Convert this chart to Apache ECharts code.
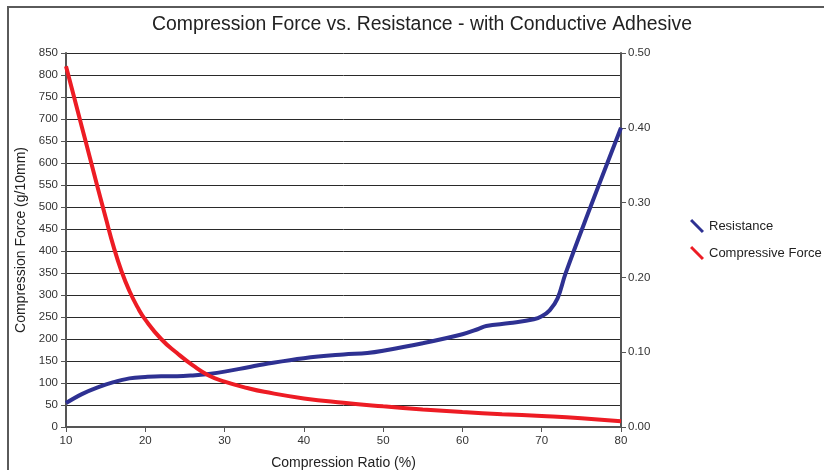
<!DOCTYPE html>
<html>
<head>
<meta charset="utf-8">
<script src="https://cdn.jsdelivr.net/npm/echarts@6/dist/echarts.min.js"></script>
<style>
html,body{margin:0;padding:0;background:#fff;}
#frame{position:absolute;left:7px;top:6px;width:830px;height:480px;border-left:2px solid #5a5a5a;border-top:2px solid #5a5a5a;}
#chart{position:absolute;left:0;top:0;width:824px;height:470px;}
</style>
</head>
<body>
<div id="frame"></div>
<div id="chart"></div>
<script>
// Compression ratio (%) and compressive force (g/10mm)
const forceX = [10, 11, 12, 13, 14, 15, 16, 17, 18, 19, 20, 22, 24, 26, 28, 30, 33, 35, 40, 45, 50, 55, 60, 65, 70, 75, 80];
const forceY = [820, 751, 682, 613, 544, 476, 410, 354, 309, 273, 244, 200, 168, 140, 117, 103, 88, 80, 65, 55, 47, 40, 34, 29, 25, 20, 13];
// Compression ratio (%) and resistance
const resX = [10, 12, 14, 16, 18, 20, 22, 24, 26, 28, 30, 33, 35, 40, 45, 48, 50, 55, 60, 62, 63, 66, 69, 70, 71, 72, 73, 76, 80];
const resY = [0.032, 0.044, 0.053, 0.060, 0.065, 0.067, 0.068, 0.068, 0.069, 0.071, 0.074, 0.080, 0.084, 0.092, 0.097, 0.099, 0.102, 0.112, 0.124, 0.131, 0.135, 0.139, 0.144, 0.148, 0.156, 0.172, 0.205, 0.290, 0.400];
const seriesNames = ['Resistance', 'Compressive Force'];
const titleText = 'Compression Force vs. Resistance - with Conductive Adhesive';

const zip = (a, b) => a.map((v, i) => [v, b[i]]);
const chart = echarts.init(document.getElementById('chart'), null, {renderer: 'canvas'});
const font = 'Liberation Sans, Arial, sans-serif';
const icon = 'path://M0,1.5 L1.5,0 L10,8.5 L8.5,10 Z';
chart.setOption({
  animation: false,
  textStyle: {fontFamily: font},
  title: {
    text: titleText, left: 147, top: 10,
    textStyle: {fontFamily: font, fontSize: 19.4, fontWeight: 'normal', color: '#222'}
  },
  legend: {
    orient: 'vertical', left: 685, top: 214, itemGap: 13, itemWidth: 14, itemHeight: 14,
    textStyle: {fontFamily: font, fontSize: 13, color: '#222'},
    data: [{name: seriesNames[0], icon: icon}, {name: seriesNames[1], icon: icon}]
  },
  grid: {left: 66, right: 203, top: 53, bottom: 43, outerBoundsMode: 'none', containLabel: false},
  xAxis: {
    type: 'value', min: 10, max: 80, interval: 10,
    name: 'Compression Ratio (%)', nameLocation: 'middle', nameGap: 29,
    nameTextStyle: {fontFamily: font, fontSize: 14, color: '#222'},
    axisLine: {lineStyle: {color: '#555', width: 2}},
    axisTick: {show: true, length: 5, lineStyle: {color: '#555', width: 1}},
    axisLabel: {fontFamily: font, fontSize: 11.5, color: '#333', margin: 8},
    splitLine: {show: false}
  },
  yAxis: [{
    type: 'value', min: 0, max: 850, interval: 50,
    name: 'Compression Force (g/10mm)', nameLocation: 'middle', nameGap: 35, nameRotate: 90,
    nameTextStyle: {fontFamily: font, fontSize: 14, color: '#222'},
    axisLine: {show: true, lineStyle: {color: '#555', width: 2}},
    axisTick: {show: true, length: 5, lineStyle: {color: '#555'}},
    axisLabel: {fontFamily: font, fontSize: 11.5, color: '#333', margin: 8},
    splitLine: {show: true, lineStyle: {color: '#2a2a2a', width: 1}}
  }, {
    type: 'value', min: 0, max: 0.5, interval: 0.1, position: 'right',
    axisLine: {show: true, lineStyle: {color: '#555', width: 2}},
    axisTick: {show: true, length: 5, lineStyle: {color: '#555'}},
    axisLabel: {fontFamily: font, fontSize: 11.5, color: '#333', margin: 7, formatter: v => v.toFixed(2)},
    splitLine: {show: false}
  }],
  series: [{
    name: seriesNames[0], type: 'line', yAxisIndex: 1, smooth: 0.4, symbol: 'none',
    data: zip(resX, resY),
    lineStyle: {color: '#2e3192', width: 4}, itemStyle: {color: '#2e3192'}, z: 3
  }, {
    name: seriesNames[1], type: 'line', yAxisIndex: 0, smooth: 0.5, symbol: 'none',
    data: zip(forceX, forceY),
    lineStyle: {color: '#ed1c24', width: 4}, itemStyle: {color: '#ed1c24'}, z: 4
  }]
});
</script>
</body>
</html>
